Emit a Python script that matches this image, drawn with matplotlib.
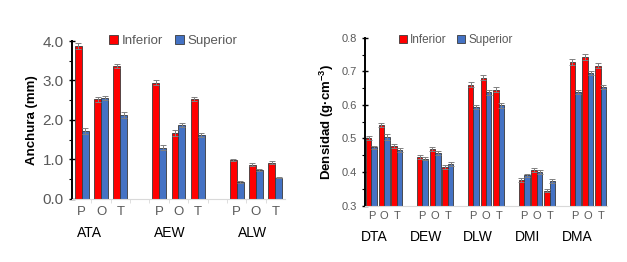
import matplotlib
matplotlib.use("Agg")
import matplotlib.pyplot as plt
from matplotlib.patches import Patch
from matplotlib.ticker import MultipleLocator, FormatStrFormatter
import matplotlib.transforms as mtransforms

plt.rcParams['font.family'] = ['Liberation Sans', 'DejaVu Sans']
plt.rcParams['mathtext.fontset'] = 'custom'
plt.rcParams['mathtext.rm'] = 'Liberation Sans'
plt.rcParams['mathtext.bf'] = 'Liberation Sans:bold'

# data
positions = ['P', 'O', 'T']

anchura_groups = ['ATA', 'AEW', 'ALW']
anchura_inf = [3.88, 2.52, 3.37, 2.94, 1.67, 2.52, 0.99, 0.87, 0.92]
anchura_sup = [1.72, 2.56, 2.12, 1.30, 1.87, 1.63, 0.43, 0.74, 0.54]
anchura_inf_err = [0.08, 0.07, 0.06, 0.06, 0.07, 0.05, 0.03, 0.03, 0.03]
anchura_sup_err = [0.08, 0.06, 0.07, 0.07, 0.05, 0.05, 0.02, 0.02, 0.02]

densidad_groups = ['DTA', 'DEW', 'DLW', 'DMI', 'DMA']
densidad_inf = [0.502, 0.540, 0.478, 0.446, 0.468, 0.414, 0.660, 0.681, 0.645,
                0.377, 0.407, 0.345, 0.728, 0.743, 0.717]
densidad_sup = [0.474, 0.505, 0.466, 0.440, 0.458, 0.424, 0.593, 0.637, 0.599,
                0.390, 0.401, 0.374, 0.638, 0.695, 0.653]
densidad_inf_err = [0.006, 0.007, 0.006, 0.006, 0.006, 0.006, 0.007, 0.007, 0.007,
                    0.006, 0.006, 0.005, 0.008, 0.008, 0.008]
densidad_sup_err = [0.005, 0.008, 0.006, 0.005, 0.006, 0.006, 0.006, 0.007, 0.008,
                    0.004, 0.006, 0.005, 0.007, 0.006, 0.007]

RED = '#ff0000'
BLUE = '#4472c4'
EDGE = '#3a3a3a'
GREY = '#595959'
ERR = '#808080'


def draw_panel(ax, groups, inf, sup, inf_err, sup_err, bar_w, tick_fs, label_fs,
               group_offsets, group_y):
    centers = []
    for g in range(len(groups)):
        for p in range(len(positions)):
            centers.append(g * 4 + p + 0.5)
    x_inf = [c - bar_w / 2 for c in centers]
    x_sup = [c + bar_w / 2 for c in centers]
    ekw = dict(ecolor=ERR, elinewidth=0.7, capsize=2, capthick=0.7)
    ax.bar(x_inf, inf, bar_w, color=RED, edgecolor=EDGE, linewidth=0.6,
           yerr=inf_err, error_kw=ekw, zorder=2)
    ax.bar(x_sup, sup, bar_w, color=BLUE, edgecolor=EDGE, linewidth=0.6,
           yerr=sup_err, error_kw=ekw, zorder=2)

    ax.set_xlim(0, len(groups) * 4 - 1)
    ax.set_xticks(centers)
    ax.set_xticklabels(positions * len(groups), color=GREY, fontsize=label_fs)
    ax.tick_params(axis='x', which='major', length=0, pad=5)

    # group names under the P O T labels
    trans = mtransforms.blended_transform_factory(ax.transData, ax.transAxes)
    for g, name in enumerate(groups):
        ax.text(g * 4 + group_offsets[g], group_y, name, transform=trans,
                ha='center', va='center', fontsize=10, color='black')

    for s in ['top', 'right']:
        ax.spines[s].set_visible(False)
    ax.spines['left'].set_linewidth(1.4)
    ax.spines['left'].set_color('black')
    ax.spines['bottom'].set_color('#d9d9d9')
    ax.tick_params(axis='y', which='major', direction='inout', length=5,
                   width=1.0, color='black', labelcolor=GREY, labelsize=tick_fs)
    ax.tick_params(axis='y', which='minor', direction='out', length=2.5,
                   width=0.8, color='black')

    handles = [Patch(facecolor=RED, edgecolor=EDGE, linewidth=0.6, label='Inferior'),
               Patch(facecolor=BLUE, edgecolor=EDGE, linewidth=0.6, label='Superior')]
    return handles


fig = plt.figure(figsize=(6.27, 2.62), dpi=100)

ax1 = fig.add_axes([0.1148, 0.2405, 0.3397, 0.603])
h = draw_panel(ax1, anchura_groups, anchura_inf, anchura_sup, anchura_inf_err,
               anchura_sup_err, 0.36, 11, 9.5, [0.9, 1.05, 1.33], -0.215)
ax1.set_ylim(0, 4.0)
ax1.yaxis.set_major_locator(MultipleLocator(1.0))
ax1.yaxis.set_minor_locator(MultipleLocator(0.5))
ax1.yaxis.set_major_formatter(FormatStrFormatter('%.1f'))
ax1.set_xticks([i for i in range(1, 11)], minor=True)
ax1.tick_params(axis='x', which='minor', length=3, color='#d9d9d9')
ax1.set_ylabel('Anchura (mm)', fontsize=9.5, fontweight='bold', labelpad=3)
leg1 = ax1.legend(handles=h, loc='upper left', bbox_to_anchor=(0.15, 1.07), ncol=2,
                  frameon=False, fontsize=9.5, handlelength=0.7, handleheight=0.7,
                  handletextpad=0.25, columnspacing=0.9, borderaxespad=0)
for t in leg1.get_texts():
    t.set_color(GREY)

ax2 = fig.add_axes([0.5821, 0.2149, 0.386, 0.6412])
h = draw_panel(ax2, densidad_groups, densidad_inf, densidad_sup, densidad_inf_err,
               densidad_sup_err, 0.43, 8, 8, [0.75, 0.8, 0.85, 0.75, 0.7], -0.186)
ax2.set_ylim(0.3, 0.8)
ax2.yaxis.set_major_locator(MultipleLocator(0.1))
ax2.yaxis.set_minor_locator(MultipleLocator(0.05))
ax2.yaxis.set_major_formatter(FormatStrFormatter('%.1f'))
ax2.tick_params(axis='x', which='major', pad=4)
ax2.set_ylabel(r'Densidad (g·cm$^{\mathbf{-3}}$)', fontsize=9.5, fontweight='bold',
               labelpad=4)
leg2 = ax2.legend(handles=h, loc='upper left', bbox_to_anchor=(0.12, 1.05), ncol=2,
                  frameon=False, fontsize=8.5, handlelength=0.7, handleheight=0.7,
                  handletextpad=0.25, columnspacing=0.9, borderaxespad=0)
for t in leg2.get_texts():
    t.set_color(GREY)

fig.savefig('out.png', dpi=100)
